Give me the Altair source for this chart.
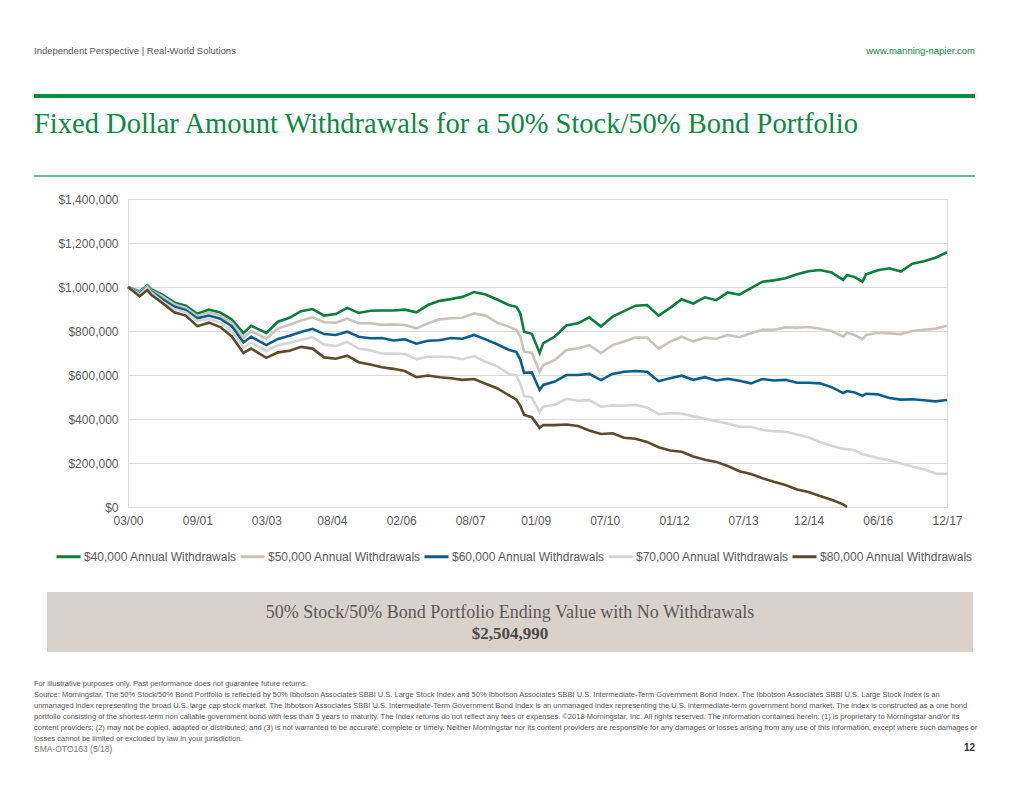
import altair as alt
import pandas as pd

# ---------------- data ----------------
dates = [
    "2000-03", "2000-06", "2000-08", "2000-09", "2000-12", "2001-03", "2001-06", "2001-09", "2001-12", "2002-03",
    "2002-06", "2002-09", "2002-11", "2003-03", "2003-06", "2003-09", "2003-12", "2004-03", "2004-06", "2004-09",
    "2004-12", "2005-03", "2005-06", "2005-09", "2005-12", "2006-03", "2006-06", "2006-09", "2006-12", "2007-03",
    "2007-06", "2007-09", "2007-12", "2008-03", "2008-06", "2008-08", "2008-09", "2008-10", "2008-12", "2009-02",
    "2009-03", "2009-06", "2009-09", "2009-12", "2010-03", "2010-06", "2010-09", "2010-12", "2011-03", "2011-06",
    "2011-09", "2011-12", "2012-03", "2012-06", "2012-09", "2012-12", "2013-03", "2013-06", "2013-09", "2013-12",
    "2014-03", "2014-06", "2014-09", "2014-12", "2015-03", "2015-06", "2015-09", "2015-10", "2015-12", "2016-02",
    "2016-03", "2016-06", "2016-09", "2016-12", "2017-03", "2017-06", "2017-09", "2017-12",
]

# portfolio values in thousands of dollars
w40k = [1000, 980, 1008, 990, 964, 930, 915, 878, 897, 884,
        852, 790, 824, 791, 842, 860, 890, 900, 870, 877,
        905, 882, 892, 893, 893, 897, 885, 918, 937, 945,
        955, 977, 966, 943, 918, 910, 880, 797, 787, 700,
        744, 775, 825, 835, 862, 820, 865, 890, 915, 918,
        870, 905, 944, 925, 953, 940, 975, 965, 995, 1024,
        1030, 1040, 1058, 1072, 1077, 1066, 1032, 1055, 1045, 1024,
        1058, 1076, 1085, 1070, 1106, 1117, 1133, 1158]
w50k = [1000, 975, 1004, 985, 956, 922, 905, 868, 885, 870,
        838, 770, 800, 765, 812, 828, 848, 862, 840, 838,
        856, 835, 835, 828, 830, 827, 812, 835, 853, 858,
        860, 880, 870, 838, 820, 805, 775, 706, 700, 615,
        645, 668, 714, 721, 736, 700, 736, 752, 770, 770,
        720, 752, 774, 753, 770, 765, 782, 772, 790, 805,
        805, 817, 815, 818, 810, 800, 774, 792, 782, 762,
        782, 792, 789, 786, 800, 806, 810, 824]
w60k = [1000, 970, 1000, 980, 944, 911, 895, 858, 870, 856,
        822, 748, 774, 736, 764, 778, 795, 810, 786, 782,
        797, 774, 767, 768, 757, 762, 742, 756, 758, 768,
        765, 782, 762, 740, 715, 704, 670, 610, 612, 532,
        555, 570, 600, 600, 605, 577, 605, 615, 618, 615,
        572, 585, 597, 578, 590, 575, 583, 574, 562, 582,
        575, 578, 565, 565, 562, 545, 518, 527, 520, 505,
        515, 512, 495, 488, 490, 485, 480, 486]
w70k = [1000, 965, 997, 975, 933, 900, 885, 845, 855, 838,
        800, 725, 748, 708, 735, 745, 760, 772, 738, 732,
        750, 720, 712, 697, 698, 695, 672, 683, 683, 682,
        672, 686, 660, 640, 605, 598, 560, 505, 498, 430,
        456, 465, 492, 483, 486, 456, 462, 460, 464, 452,
        422, 426, 425, 412, 402, 390, 380, 365, 365, 350,
        345, 342, 330, 317, 295, 278, 264, 263, 258, 240,
        236, 223, 212, 198, 184, 172, 152, 150]
w80k = [1000, 958, 986, 965, 926, 885, 870, 822, 838, 818,
        775, 700, 720, 678, 703, 710, 728, 720, 680, 674,
        688, 658, 648, 635, 628, 618, 590, 598, 590, 585,
        578, 582, 560, 540, 508, 488, 460, 418, 408, 360,
        373, 372, 375, 368, 348, 332, 335, 315, 310, 296,
        272, 257, 251, 230, 215, 205, 186, 163, 150, 131,
        115, 100, 80, 68, 50, 33, 12, 0, None, None,
        None, None, None, None, None, None, None, None]

series_names = [
    "$40,000 Annual Withdrawals",
    "$50,000 Annual Withdrawals",
    "$60,000 Annual Withdrawals",
    "$70,000 Annual Withdrawals",
    "$80,000 Annual Withdrawals",
]
series_colors = ["#0b7d3e", "#cbc2bc", "#0b5e8a", "#d5d5d5", "#5a4a2e"]

y_ticks = [0, 200000, 400000, 600000, 800000, 1000000, 1200000, 1400000]
x_ticks = [(2000, 3), (2001, 9), (2003, 3), (2004, 8), (2006, 2), (2007, 8), (2009, 1),
           (2010, 7), (2012, 1), (2013, 7), (2014, 12), (2016, 6), (2017, 12)]

header_left = "Independent Perspective | Real-World Solutions"
header_right = "www.manning-napier.com"
title_text = "Fixed Dollar Amount Withdrawals for a 50% Stock/50% Bond Portfolio"
box_line1 = "50% Stock/50% Bond Portfolio Ending Value with No Withdrawals"
box_line2 = "$2,504,990"
footnotes = [
    "For illustrative purposes only. Past performance does not guarantee future returns.",
    "Source: Morningstar. The 50% Stock/50% Bond Portfolio is reflected by 50% Ibbotson Associates SBBI U.S. Large Stock Index and 50% Ibbotson Associates SBBI U.S. Intermediate-Term Government Bond Index. The Ibbotson Associates SBBI U.S. Large Stock Index is an",
    "unmanaged index representing the broad U.S. large cap stock market. The Ibbotson Associates SBBI U.S. Intermediate-Term Government Bond Index is an unmanaged index representing the U.S. intermediate-term government bond market. The index is constructed as a one bond",
    "portfolio consisting of the shortest-term non callable government bond with less than 5 years to maturity.  The Index returns do not reflect any fees or expenses. \u00a92018 Morningstar, Inc. All rights reserved. The information contained herein: (1) is proprietary to Morningstar and/or its",
    "content providers; (2) may not be copied, adapted or distributed; and (3) is not warranted to be accurate, complete or timely. Neither Morningstar nor its content providers are responsible for any damages or losses arising from any use of this information, except where such damages or",
    "losses cannot be limited or excluded by law in your jurisdiction.",
]
doc_code = "SMA-OTO163 (5/18)"
page_no = "12"

# ---------------- table ----------------
rows = []
for name, vals in zip(series_names, [w40k, w50k, w60k, w70k, w80k]):
    for d, v in zip(dates, vals):
        if v is not None:
            rows.append({"date": d + "-01", "series": name, "value": v * 1000})
df = pd.DataFrame(rows)

SANS = "Liberation Sans"
SERIF = "Liberation Serif"
GRAY = "#595959"
GREEN = "#0b8a43"

lines = alt.Chart(df).mark_line(strokeWidth=2.6).encode(
    x=alt.X(
        "date:T",
        scale=alt.Scale(
            type="utc",
            domain=[alt.DateTime(year=2000, month=3, date=1, utc=True),
                    alt.DateTime(year=2017, month=12, date=1, utc=True)],
            nice=False,
        ),
        axis=alt.Axis(
            values=[alt.DateTime(year=y, month=m, date=1, utc=True) for y, m in x_ticks],
            format="%m/%y", grid=False, domain=False, ticks=False, labelFlush=False,
            labelPadding=8, labelFontSize=12, labelFont=SANS, labelColor=GRAY, title=None,
        ),
    ),
    y=alt.Y(
        "value:Q",
        scale=alt.Scale(domain=[0, 1400000], nice=False),
        axis=alt.Axis(
            values=y_ticks, format="$,.0f", grid=True, gridColor="#d9d9d9", gridWidth=1,
            domain=False, ticks=False, labelPadding=10, labelFontSize=12, labelFont=SANS,
            labelColor=GRAY, title=None,
        ),
    ),
    color=alt.Color(
        "series:N",
        scale=alt.Scale(domain=series_names, range=series_colors),
        legend=alt.Legend(
            title=None, orient="none", legendX=-73, legendY=344, direction="horizontal",
            symbolType="stroke", symbolStrokeWidth=3, symbolSize=576, labelFontSize=12,
            labelFont=SANS, labelColor=GRAY, labelOffset=2, columnPadding=-3,
        ),
    ),
    order=alt.Order("date:T"),
)


def txt(text, x, y, size, color, font=SANS, align="left", weight="normal"):
    return alt.Chart(pd.DataFrame({"t": [text]})).mark_text(
        align=align, baseline="middle", fontSize=size, font=font, color=color, fontWeight=weight
    ).encode(x=alt.value(x), y=alt.value(y), text="t:N")


def rule(x1, x2, y, color, width):
    return alt.Chart(pd.DataFrame({"a": [0]})).mark_rule(color=color, strokeWidth=width).encode(
        x=alt.value(x1), x2=alt.value(x2), y=alt.value(y)
    )


box = alt.Chart(pd.DataFrame({"a": [0]})).mark_rect(color="#d9d1cc").encode(
    x=alt.value(-81), x2=alt.value(845), y=alt.value(393), y2=alt.value(453)
)

layers = [
    box,
    lines,
    txt(header_left, -94, -148, 9.5, "#555555"),
    txt(header_right, 847, -148, 9.5, GREEN, align="right"),
    rule(-94, 847, -103, GREEN, 4),
    txt(title_text, -94, -75, 28.5, GREEN, font=SERIF),
    rule(-94, 847, -23, "#3fa865", 1.5),
    txt(box_line1, 382, 414, 18, GRAY, font=SERIF, align="center"),
    txt(box_line2, 382, 435, 17, "#4a4a4a", font=SERIF, align="center", weight="bold"),
]
foot_y = [485, 496, 507, 518, 529, 540]
for t, yy in zip(footnotes, foot_y):
    layers.append(txt(t, -94, yy, 7.5, "#555555"))
layers.append(txt(doc_code, -94, 550, 8.5, "#777777"))
layers.append(txt(page_no, 847, 549, 10, "#333333", align="right", weight="bold"))

chart = alt.layer(*layers).properties(
    width=819,
    height=308,
    autosize=alt.AutoSizeParams(type="none"),
    padding={"left": 120, "top": 191, "right": 65, "bottom": 270},
).configure_view(stroke=None).configure(background="white")

chart.save("out.html", embed_options={"renderer": "svg", "actions": False})
